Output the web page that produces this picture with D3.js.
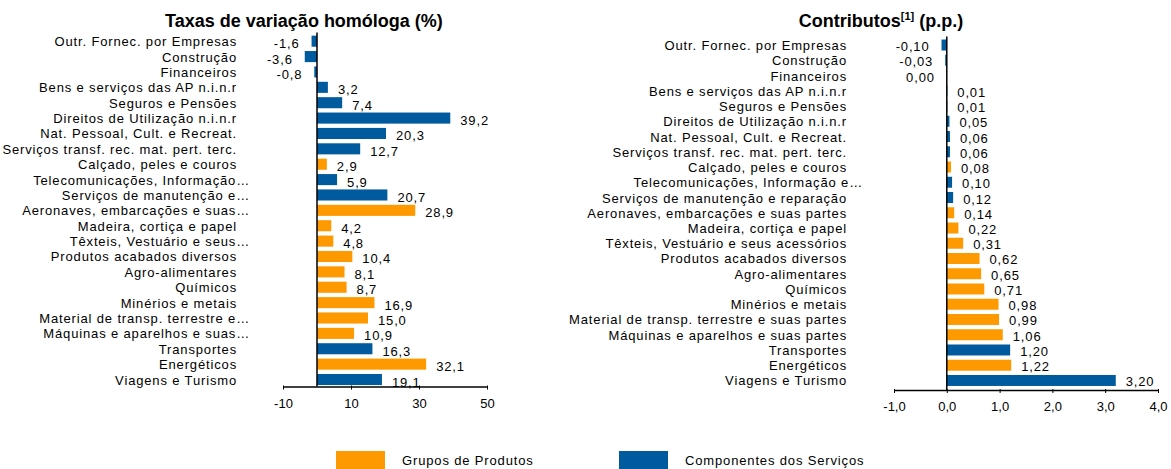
<!DOCTYPE html>
<html>
<head>
<meta charset="utf-8">
<script src="https://cdn.jsdelivr.net/npm/d3@7/dist/d3.min.js"></script>
<style>
  body { margin: 0; background: #fff; }
  svg text { font-family: 'Liberation Sans', Arial, sans-serif; fill: #000; }
  .cat, .val, .leg { font-size: 13px; letter-spacing: 0.85px; }
  .eje text { font-size: 13px; font-family: 'Liberation Sans', Arial, sans-serif; fill: #000; }
  .titulo { font-size: 18px; font-weight: bold; }
</style>
</head>
<body>
<div id="graf"></div>
<script>
// I. Dados
categoriasTaxas = [
  'Outr. Fornec. por Empresas', 'Construção', 'Financeiros',
  'Bens e serviços das AP n.i.n.r', 'Seguros e Pensões', 'Direitos de Utilização n.i.n.r',
  'Nat. Pessoal, Cult. e Recreat.', 'Serviços transf. rec. mat. pert. terc.',
  'Calçado, peles e couros', 'Telecomunicações, Informação…', 'Serviços de manutenção e…',
  'Aeronaves, embarcações e suas…', 'Madeira, cortiça e papel', 'Têxteis, Vestuário e seus…',
  'Produtos acabados diversos', 'Agro-alimentares', 'Químicos', 'Minérios e metais',
  'Material de transp. terrestre e…', 'Máquinas e aparelhos e suas…',
  'Transportes', 'Energéticos', 'Viagens e Turismo'
]
categoriasContrib = [
  'Outr. Fornec. por Empresas', 'Construção', 'Financeiros',
  'Bens e serviços das AP n.i.n.r', 'Seguros e Pensões', 'Direitos de Utilização n.i.n.r',
  'Nat. Pessoal, Cult. e Recreat.', 'Serviços transf. rec. mat. pert. terc.',
  'Calçado, peles e couros', 'Telecomunicações, Informação e…', 'Serviços de manutenção e reparação',
  'Aeronaves, embarcações e suas partes', 'Madeira, cortiça e papel', 'Têxteis, Vestuário e seus acessórios',
  'Produtos acabados diversos', 'Agro-alimentares', 'Químicos', 'Minérios e metais',
  'Material de transp. terrestre e suas partes', 'Máquinas e aparelhos e suas partes',
  'Transportes', 'Energéticos', 'Viagens e Turismo'
]
// P = Grupos de Produtos, S = Componentes dos Serviços
tipos = ['S','S','S','S','S','S','S','S','P','S','S','P','P','P','P','P','P','P','P','P','S','P','S']
taxas = [-1.6, -3.6, -0.8, 3.2, 7.4, 39.2, 20.3, 12.7, 2.9, 5.9, 20.7, 28.9, 4.2, 4.8, 10.4, 8.1, 8.7, 16.9, 15.0, 10.9, 16.3, 32.1, 19.1]
contributos = [-0.10, -0.03, 0.00, 0.01, 0.01, 0.05, 0.06, 0.06, 0.08, 0.10, 0.12, 0.14, 0.22, 0.31, 0.62, 0.65, 0.71, 0.98, 0.99, 1.06, 1.20, 1.22, 3.20]
ticksTaxas = [-10, 10, 30, 50]
ticksContrib = [-1, 0, 1, 2, 3, 4]
series = ['Grupos de Produtos', 'Componentes dos Serviços']

// II. Configuração
ancho_total = 1171
alto_total = 469

svg = d3.select('#graf').append('svg')
        .attr('width', ancho_total)
        .attr('height', alto_total)

color = d3.scaleOrdinal()
          .domain(['P', 'S'])
          .range(['#FF9900', '#005A9E'])

// vírgula decimal e hífen como sinal menos
virgula = f => (v => f(v).replace('.', ',').replace('−', '-'))

// III. render
function render(c) {
  g = svg.append('g')

  x = d3.scaleLinear().domain(c.dominio).range(c.rangoX)
  y = d3.scaleBand()
        .domain(d3.range(c.valores.length))
        .range(c.rangoY)
        .paddingInner(0.28)
        .paddingOuter(0.14)

  datos = c.valores.map((v, i) => ({ v: v, cat: c.categorias[i], tipo: tipos[i], i: i }))

  g.selectAll('rect.barra')
    .data(datos)
    .enter().append('rect')
      .attr('class', 'barra')
      .attr('x', d => x(Math.min(0, d.v)))
      .attr('width', d => Math.abs(x(d.v) - x(0)))
      .attr('y', d => y(d.i))
      .attr('height', y.bandwidth())
      .attr('fill', d => color(d.tipo))

  // eixo de categorias (zero)
  g.append('line')
    .attr('x1', x(0)).attr('x2', x(0))
    .attr('y1', c.rangoY[0] - 1).attr('y2', c.ejeY)
    .attr('stroke', '#000').attr('stroke-width', 1.5)

  g.selectAll('text.cat')
    .data(datos)
    .enter().append('text')
      .attr('class', 'cat')
      .attr('x', d => c.finCat + (d.cat.endsWith('…') ? c.extraElipse : 0))
      .attr('y', d => y(d.i) + y.bandwidth() / 2 + 5)
      .attr('text-anchor', 'end')
      .text(d => d.cat)

  g.selectAll('text.val')
    .data(datos)
    .enter().append('text')
      .attr('class', 'val')
      .attr('x', d => d.v > 0 ? x(d.v) + 10 : x(Math.min(0, d.v)) - 12)
      .attr('y', d => y(d.i) + y.bandwidth() / 2 + c.dyVal)
      .attr('text-anchor', d => d.v > 0 ? 'start' : 'end')
      .text(d => c.formato(d.v))

  eje = g.append('g')
    .attr('class', 'eje')
    .attr('transform', `translate(0, ${ c.ejeY })`)
    .call(d3.axisBottom(x).tickValues(c.ticks).tickSize(3).tickSizeOuter(0).tickFormat(c.formatoEje))
  eje.attr('font-family', null).attr('font-size', null)
  eje.select('.domain').attr('stroke', '#000').attr('stroke-width', 1.5)
  eje.selectAll('.tick line').attr('stroke', '#000').attr('y1', -1).attr('y2', 3)
  eje.selectAll('.tick text').attr('y', 21).attr('dy', null).attr('fill', '#000')

  titulo = g.append('text')
    .attr('class', 'titulo')
    .attr('x', c.tituloX)
    .attr('y', 27)
    .attr('text-anchor', 'middle')
  titulo.append('tspan').text(c.titulo)
  if (c.sup) {
    titulo.append('tspan').attr('font-size', '11px').attr('dy', -7).text(c.sup)
    titulo.append('tspan').attr('dy', 7).text(c.tituloFim)
  }
}

// IV. Despliegue
render({
  categorias: categoriasTaxas, valores: taxas,
  dominio: [-10, 50], rangoX: [283, 487], rangoY: [33.5, 387.2], ejeY: 386.5,
  ticks: ticksTaxas, formatoEje: virgula(d3.format('d')), formato: virgula(d3.format('.1f')),
  finCat: 237, extraElipse: 13, dyVal: 7,
  titulo: 'Taxas de variação homóloga (%)', tituloX: 304
})

render({
  categorias: categoriasContrib, valores: contributos,
  dominio: [-1, 4], rangoX: [894, 1158], rangoY: [37.4, 388.1], ejeY: 390,
  ticks: ticksContrib, formatoEje: virgula(d3.format('.1f')), formato: virgula(d3.format('.2f')),
  finCat: 847, extraElipse: 16, dyVal: 6,
  titulo: 'Contributos', sup: '[1]', tituloFim: ' (p.p.)', tituloX: 881
})

// legenda
leg = svg.append('g')
leg.selectAll('rect')
  .data(series)
  .enter().append('rect')
    .attr('x', (d, i) => [336, 619][i])
    .attr('y', 451)
    .attr('width', 49)
    .attr('height', 18)
    .attr('fill', (d, i) => color(['P', 'S'][i]))
leg.selectAll('text')
  .data(series)
  .enter().append('text')
    .attr('class', 'leg')
    .attr('x', (d, i) => [402, 685][i])
    .attr('y', 465)
    .text(d => d)
</script>
</body>
</html>
